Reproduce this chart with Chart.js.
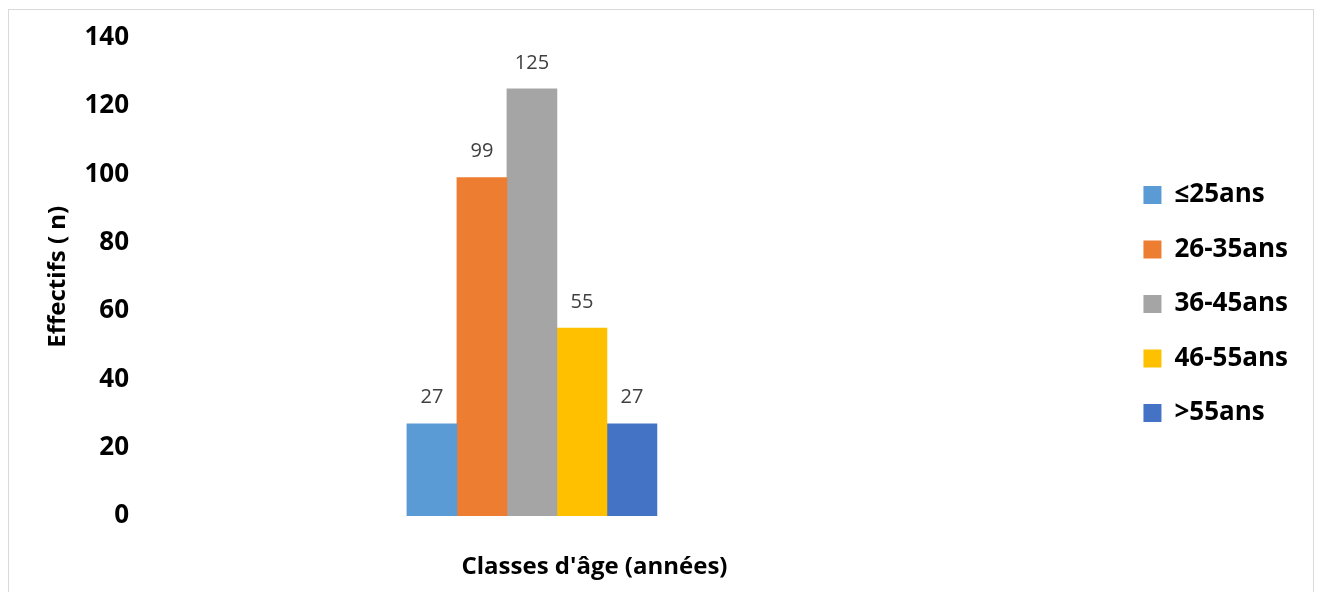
<!DOCTYPE html>
<html>
<head>
<meta charset="utf-8">
<script src="https://cdn.jsdelivr.net/npm/chart.js@4.4.1/dist/chart.umd.min.js"></script>
<style>
    html, body { margin: 0; padding: 0; background: #fff; overflow: hidden; }
    #frame { position: absolute; left: 8px; top: 9px; width: 1304px; height: 600px; border: 1px solid #d9d9d9; }
    canvas { display: block; }
</style>
</head>
<body>
<div id="frame"><canvas id="ageChart" width="1304" height="582"></canvas></div>
<script>
const ageGroups = ['≤25ans', '26-35ans', '36-45ans', '46-55ans', '>55ans'];
const counts = [27, 99, 125, 55, 27];
const groupX = 0;
const yMax = 140, yStep = 20;
const colors = ['#5B9BD5', '#ED7D31', '#A5A5A5', '#FFC000', '#4472C4'];

const yTitle = 'Effectifs ( n)';
const xTitle = "Classes d'âge (années)";
const family = '"Open Sans", sans-serif';

// value labels above each bar
const valueLabels = {
    id: 'valueLabels',
    afterDatasetsDraw(chart) {
        const {ctx} = chart;
        ctx.save();
        ctx.font = `20px ${family}`;
        ctx.fillStyle = '#404040';
        ctx.textAlign = 'center';
        ctx.textBaseline = 'middle';
        chart.data.datasets.forEach((ds, i) => {
            chart.getDatasetMeta(i).data.forEach((bar, j) => {
                ctx.fillText(ds.data[j].y, bar.x, bar.y - 26);
            });
        });
        ctx.restore();
    }
};

const datasets = ageGroups.map((label, i) => ({
    label,
    data: [{x: groupX, y: counts[i]}],
    backgroundColor: colors[i],
    borderWidth: 0,
    barThickness: 50
}));

new Chart(document.getElementById('ageChart'), {
    type: 'bar',
    data: {datasets},
    options: {
        responsive: false,
        animation: false,
        layout: {padding: {left: 20, top: 25, right: 15, bottom: 19}},
        plugins: {
            tooltip: {enabled: false},
            legend: {
                position: 'right',
                labels: {
                    boxWidth: 18,
                    boxHeight: 18,
                    padding: 28.5,
                    color: '#000',
                    font: {family, size: 26, weight: 'bold'}
                }
            }
        },
        scales: {
            x: {
                type: 'linear',
                min: -1,
                max: 1.32,
                offset: false,
                ticks: {display: false},
                grid: {display: false, drawTicks: false},
                border: {display: false},
                title: {
                    display: true,
                    text: xTitle,
                    color: '#000',
                    font: {family, size: 24, weight: 'bold'},
                    padding: {top: 36.6, bottom: -8.4}
                }
            },
            y: {
                min: 0,
                max: yMax,
                ticks: {
                    stepSize: yStep,
                    color: '#000',
                    padding: 12,
                    font: {family, size: 26, weight: 'bold'}
                },
                grid: {display: false, drawTicks: false},
                border: {display: false},
                title: {
                    display: true,
                    text: yTitle,
                    color: '#000',
                    font: {family, size: 24, weight: 'bold'},
                    padding: {top: 14.6, bottom: 0}
                }
            },
            y2: {
                position: 'right',
                ticks: {display: false},
                grid: {display: false, drawTicks: false},
                border: {display: false},
                afterFit: scale => { scale.width = 67; }
            }
        }
    },
    plugins: [valueLabels]
});
</script>
</body>
</html>
